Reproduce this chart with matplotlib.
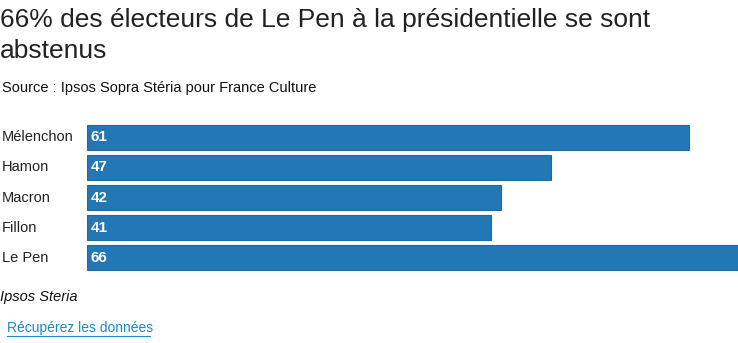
import matplotlib.pyplot as plt

candidats = ["Mélenchon", "Hamon", "Macron", "Fillon", "Le Pen"]
abstention = [61, 47, 42, 41, 66]

W, H = 738, 343
fig = plt.figure(figsize=(W / 100, H / 100), dpi=100)
plt.rcParams['font.family'] = ['Liberation Sans', 'DejaVu Sans']

# zone des barres, en pixels
x0, x1 = 87, 738
y_top, y_bot = 122, 273
ax = fig.add_axes([x0 / W, 1 - y_bot / H, (x1 - x0) / W, (y_bot - y_top) / H])

pos = list(range(len(candidats)))
ax.barh(pos, abstention, height=0.83, color="#2377b5", edgecolor="#1d6aa3", linewidth=0.8)
ax.set_xlim(0, max(abstention))
ax.set_ylim(len(candidats) - 0.5, -0.5)
ax.axis("off")

for i, (nom, v) in enumerate(zip(candidats, abstention)):
    ax.text(0.35, i, str(v), color="white", fontsize=11, fontweight="bold", va="center", ha="left")
    ax.annotate(nom, xy=(0, i), xycoords=("figure fraction", "data"), xytext=(2, 0),
                textcoords="offset pixels", fontsize=10.5, va="center", ha="left", color="#222222")

# titre sur deux lignes
fig.text(0, 1 - 27 / H, "66% des électeurs de Le Pen à la présidentielle se sont",
         fontsize=19, va="baseline", ha="left", color="#222222")
fig.text(0, 1 - 58 / H, "abstenus", fontsize=19, va="baseline", ha="left", color="#222222")
fig.text(2 / W, 1 - 88 / H, "Source : Ipsos Sopra Stéria pour France Culture",
         fontsize=10.5, va="center", ha="left", color="#111111")
fig.text(0, 1 - 297 / H, "Ipsos Steria", fontsize=10.5, style="italic", va="center", ha="left", color="#111111")
fig.text(7 / W, 1 - 328 / H, "Récupérez les données", fontsize=10, va="center", ha="left",
         color="#1a8cc8")
fig.add_artist(plt.Line2D([7 / W, 150 / W], [1 - 336 / H, 1 - 336 / H], color="#1a8cc8", linewidth=0.8))

fig.savefig("out.png", dpi=100)
